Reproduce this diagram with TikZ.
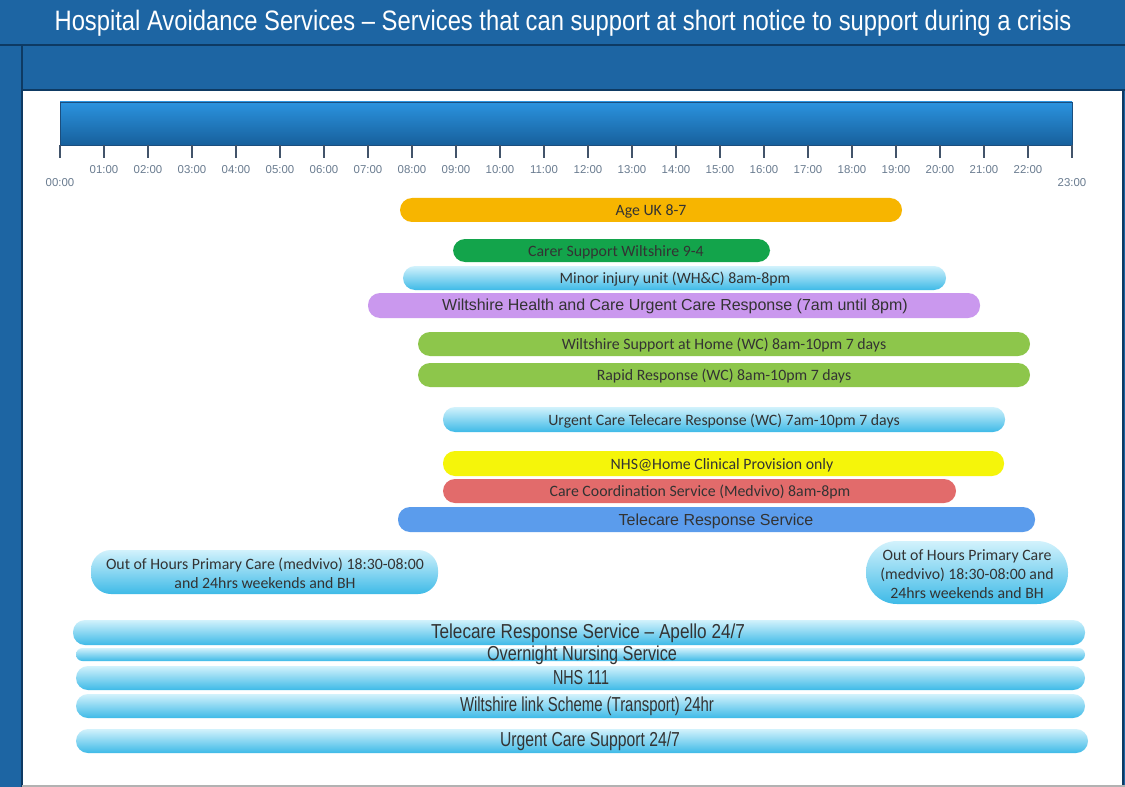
\documentclass[tikz,border=0pt]{standalone}
\usepackage{fontspec,graphicx}
\setmainfont{Carlito}
\newfontfamily\arialfont{Liberation Sans}
\definecolor{frameblue}{HTML}{1D65A3}
\definecolor{framedark}{HTML}{0E3A63}
\definecolor{tltop}{HTML}{2B93DF}
\definecolor{tlbot}{HTML}{17609C}
\definecolor{tlline}{HTML}{1B4E7E}
\definecolor{tickc}{HTML}{42546A}
\definecolor{hourgrey}{HTML}{6A7C90}
\definecolor{ageuk}{HTML}{F7B500}
\definecolor{carergreen}{HTML}{13A44B}
\definecolor{ucrpurple}{HTML}{CA98EE}
\definecolor{wcgreen}{HTML}{8DC64B}
\definecolor{nhsyellow}{HTML}{F5F50A}
\definecolor{ccred}{HTML}{E26B6B}
\definecolor{trsblue}{HTML}{5B9CEC}
\definecolor{skytop}{HTML}{D2F2FC}
\definecolor{skymid}{HTML}{8FD9F3}
\definecolor{skybot}{HTML}{3EBAE7}
\definecolor{txtgrey}{HTML}{333333}
\newcommand\squeeze[2]{\resizebox{#1}{\height}{#2}}

\begin{document}
\begin{tikzpicture}[x=0.02cm,y=-0.02cm,
    bar/.style={rounded corners=0.24cm},
    skybar/.style={bar,top color=skytop,middle color=skymid,bottom color=skybot},
    lbl/.style={inner sep=0pt,text=txtgrey,font=\fontsize{9}{10.8}\selectfont,align=center},
    arlbl/.style={lbl,font=\arialfont\fontsize{9.1}{11}\selectfont},
    narlbl/.style={lbl,font=\arialfont\fontsize{11.5}{13}\selectfont},
    hour/.style={inner sep=0pt,text=hourgrey,font=\arialfont\fontsize{6.5}{7}\selectfont}]
    \useasboundingbox (0,0) rectangle (1125,787);
    % frame and title
    \fill[frameblue] (0,0) rectangle (1125,787);
    \fill[white] (23,91) rectangle (1122,786);
    \draw[framedark,line width=1.2pt] (0,45)--(1125,45);
    \draw[framedark,line width=1.2pt] (22,45)--(22,787);
    \draw[framedark,line width=1.2pt] (22,90)--(1125,90);
    \draw[framedark,line width=0.8pt] (1123,90)--(1123,787);
    \draw[gray!60,line width=0.8pt] (22,786)--(1125,786);
    \node[text=white,inner sep=0pt] (title) at (563,23) {\squeeze{20.34cm}{\arialfont\fontsize{16}{18}\selectfont Hospital Avoidance Services – Services that can support at short notice to support during a crisis}};
    % timeline
    \draw[top color=tltop,bottom color=tlbot,draw=tlline,line width=0.5pt] (60,102) rectangle (1072,145);
    \foreach \h in {0,...,23}
        \draw[tickc,line width=1.1pt] (60+44*\h,145) -- (60+44*\h,158);
    \foreach \h in {1,...,22}
        \node[hour] (h\h) at (60+44*\h,170) {\ifnum\h<10 0\fi\h:00};
    \node[hour] (h0) at (60,183) {00:00};
    \node[hour] (h23) at (1072,183) {23:00};
    % daytime services
    \path[bar,fill=ageuk] (400,198) rectangle (902,222);
    \node[lbl] (ageuk) at (651,211) {Age UK 8-7};
    \path[bar,fill=carergreen] (453,239) rectangle (770,262);
    \node[lbl] (carer) at (616,252) {Carer Support Wiltshire 9-4};
    \path[skybar] (403,266) rectangle (946,290);
    \node[lbl] (miu) at (675,279) {Minor injury unit (WH\&C) 8am-8pm};
    \path[bar,fill=ucrpurple] (368,293) rectangle (980,318);
    \node[arlbl] (ucr) at (675,306) {Wiltshire Health and Care Urgent Care Response (7am until 8pm)};
    \path[bar,fill=wcgreen] (418,332) rectangle (1030,356);
    \node[lbl] (wsah) at (724,345) {Wiltshire Support at Home (WC) 8am-10pm 7 days};
    \path[bar,fill=wcgreen] (418,363) rectangle (1030,387);
    \node[lbl] (rapid) at (724,376) {Rapid Response (WC) 8am-10pm 7 days};
    \path[skybar] (443,407) rectangle (1005,432);
    \node[lbl] (uctr) at (724,421) {Urgent Care Telecare Response (WC) 7am-10pm 7 days};
    \path[bar,fill=nhsyellow] (443,451) rectangle (1004,476);
    \node[lbl] (nhsh) at (722,465) {NHS@Home Clinical Provision only};
    \path[bar,fill=ccred] (443,479) rectangle (956,503);
    \node[lbl] (ccs) at (700,492) {Care Coordination Service (Medvivo) 8am-8pm};
    \path[bar,fill=trsblue] (398,507) rectangle (1035,532);
    \node[arlbl] (trs) at (716,521) {Telecare Response Service};
    % out of hours
    \path[skybar,rounded corners=0.4cm] (91,550) rectangle (438,594);
    \node[lbl] (oohl) at (265,573) {Out of Hours Primary Care (medvivo) 18:30-08:00\\and 24hrs weekends and BH};
    \path[skybar,rounded corners=0.62cm] (866,541) rectangle (1068,604);
    \node[lbl] (oohr) at (967,574) {Out of Hours Primary Care\\(medvivo) 18:30-08:00 and\\24hrs weekends and BH};
    % round the clock
    \path[skybar] (73,620) rectangle (1085,645);
    \node[narlbl] (apello) at (588,633) {\squeeze{6.28cm}{Telecare Response Service – Apello 24/7}};
    \path[skybar,rounded corners=0.13cm] (76,648) rectangle (1085,661);
    \node[narlbl] (night) at (582,655) {\squeeze{3.8cm}{Overnight Nursing Service}};
    \path[skybar] (76,666) rectangle (1085,690);
    \node[narlbl] (nhs111) at (581,678) {\squeeze{1.12cm}{NHS 111}};
    \path[skybar] (76,694) rectangle (1085,718);
    \node[narlbl] (link) at (587,706) {\squeeze{5.08cm}{Wiltshire link Scheme (Transport) 24hr}};
    \path[skybar] (76,729) rectangle (1088,753);
    \node[narlbl] (ucs) at (590,741) {\squeeze{3.6cm}{Urgent Care Support 24/7}};
\end{tikzpicture}
\end{document}
